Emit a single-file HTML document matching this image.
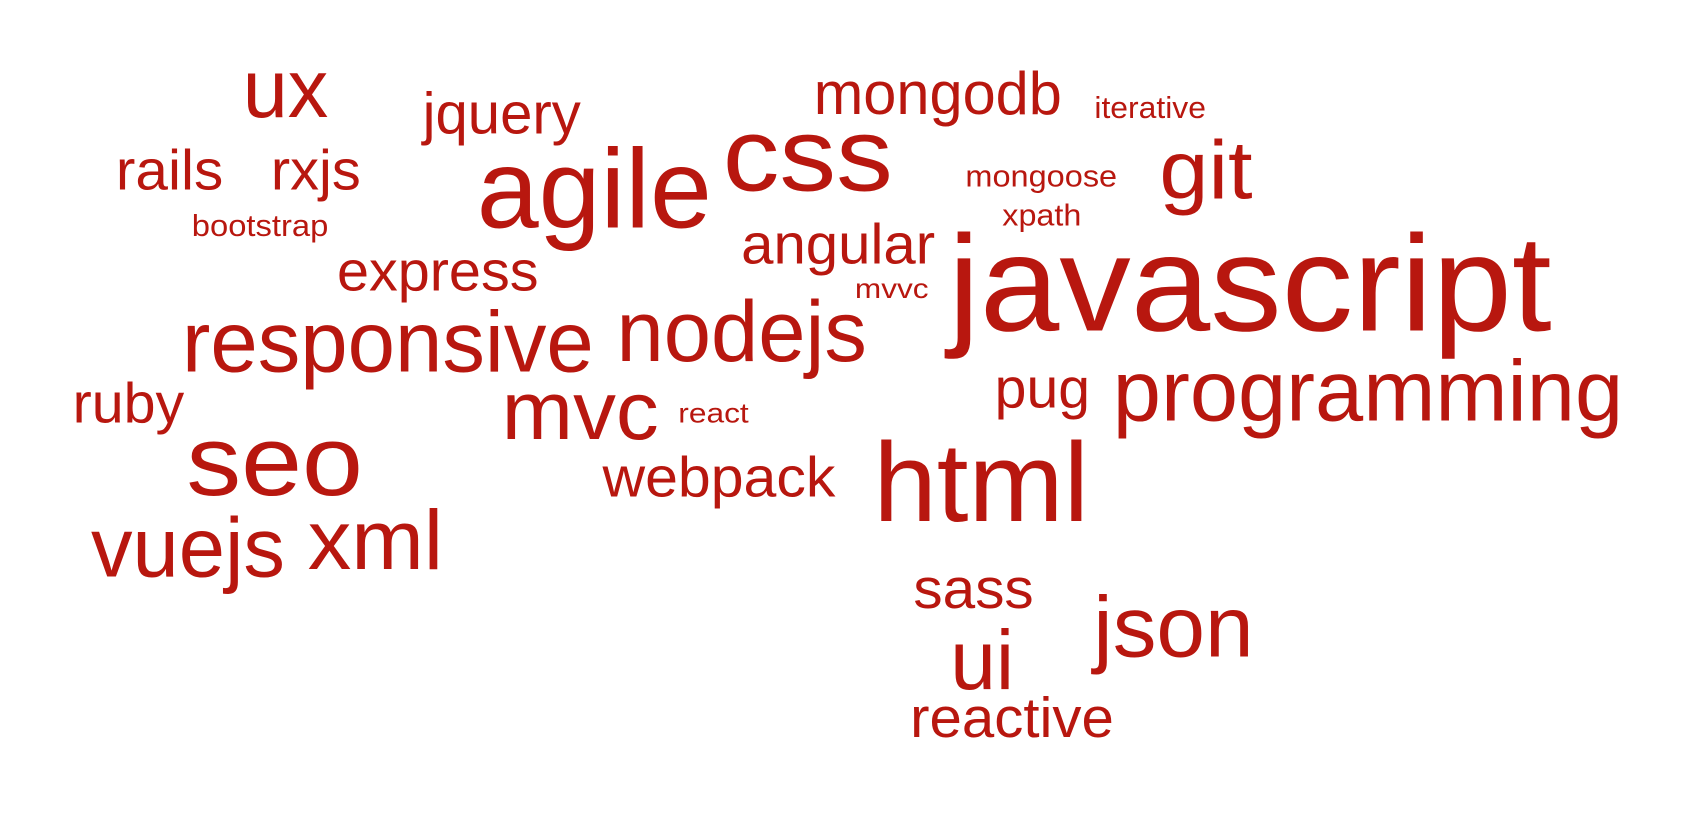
<!DOCTYPE html>
<html><head><meta charset="utf-8"><style>
html,body{margin:0;padding:0;background:#fff;}
svg{display:block;}
text{font-family:"Liberation Sans",sans-serif;fill:#b8170f;}
</style></head><body>
<svg id="cloud" width="1699" height="817" viewBox="0 0 1568 754" preserveAspectRatio="none" xmlns="http://www.w3.org/2000/svg"></svg>
<script>
const words = ["ux","jquery","mongodb","iterative","rails","rxjs","agile","css","mongoose","git","bootstrap","xpath","angular","express","mvvc","javascript","responsive","nodejs","pug","programming","ruby","mvc","react","seo","webpack","html","vuejs","xml","sass","json","ui","reactive"];
const sizes = [76,54,56,28,52,52,104,96,28,76,28,28,52,52,26,126,80,80,52,80,52,76,26,92,52,104,78,78,52,80,78,52];
const lefts = [224,390,751,1010,107,250,440,667,891,1070,177,925,684,311,789,875,168,569,918,1027,67,463,626,172,556,806,84,284,843,1009,877,840];
const rights = [303,536,980,1113,206,333,657,824,1031,1156,303,998,863,497,857,1432,548,800,1006,1498,170,608,691,335,771,1005,263,409,954,1157,936,1028];
const baselines = [108,123,105,109,175,175,210,176,172,183,218,208,243,268,275,305,343,333,376,388,390,405,390,457,458,481,532,525,561,606,636,680];
const svg = document.getElementById('cloud');
const NS = "http://www.w3.org/2000/svg";
words.forEach((w, i) => {
  const t = document.createElementNS(NS, 'text');
  
  
  t.setAttribute('x', lefts[i]);
  t.setAttribute('y', baselines[i]);
  t.setAttribute('font-size', sizes[i]);
  t.setAttribute('textLength', rights[i] - lefts[i]);
  t.setAttribute('lengthAdjust', 'spacingAndGlyphs');
  t.textContent = w;
  svg.appendChild(t);
});
</script>
</body></html>
